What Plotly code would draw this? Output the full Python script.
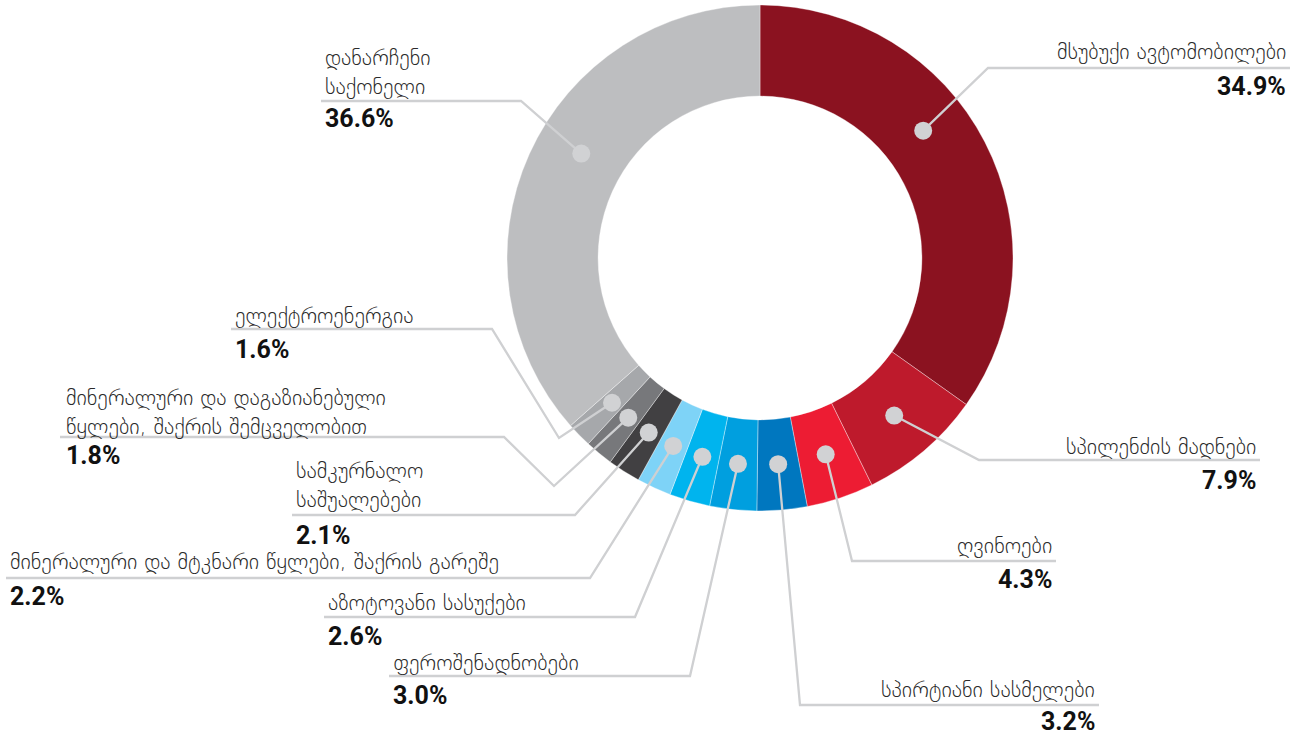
import math
import plotly.graph_objects as go

# ---------------- data ----------------
labels = [
    "მსუბუქი ავტომობილები",
    "სპილენძის მადნები",
    "ღვინოები",
    "სპირტიანი სასმელები",
    "ფეროშენადნობები",
    "აზოტოვანი სასუქები",
    "მინერალური და მტკნარი წყლები, შაქრის გარეშე",
    "სამკურნალო საშუალებები",
    "მინერალური და დაგაზიანებული წყლები, შაქრის შემცველობით",
    "ელექტროენერგია",
    "დანარჩენი საქონელი",
]
values = [34.9, 7.9, 4.3, 3.2, 3.0, 2.6, 2.2, 2.1, 1.8, 1.6, 36.6]
colors = ["#8B1220", "#BE1A2C", "#ED1C33", "#0077BF", "#009FDF", "#00B4EE",
          "#7ED3F7", "#414042", "#77787B", "#A6A8AB", "#BDBEC0"]

# label text as shown on the chart (with line breaks)
label_text = [
    "მსუბუქი ავტომობილები",
    "სპილენძის მადნები",
    "ღვინოები",
    "სპირტიანი სასმელები",
    "ფეროშენადნობები",
    "აზოტოვანი სასუქები",
    "მინერალური და მტკნარი წყლები, შაქრის გარეშე",
    "სამკურნალო<br>საშუალებები",
    "მინერალური და დაგაზიანებული<br>წყლები, შაქრის შემცველობით",
    "ელექტროენერგია",
    "დანარჩენი<br>საქონელი",
]

# ---------------- layout constants (page pixels) ----------------
W, H = 1299, 736
CX, CY, R_OUT = 760, 258, 253
HOLE = 0.64
R_DOT = 207
DOT_R = 9
LINE_COLOR = "#CFD0D2"
DOT_COLOR = "#D1D2D4"
NAME_SIZE = 22
PCT_SIZE = 25

# where along each slice the dot sits (0.5 = middle)
dot_frac = [0.415, 0.5, 0.5, 0.5, 0.5, 0.5, 0.5, 0.5, 0.5, 0.5, 0.546]

# label layout: side, text x, name-block center y, underline y, pct y, underline outer end x, bend points
label_layout = [
    dict(side="right", x=1288, ny=52, uy=68, py=86, ux=1290, path=[(988, 68)]),
    dict(side="right", x=1258, ny=446, uy=460, py=480, ux=1260, path=[(979, 460)]),
    dict(side="right", x=1054, ny=545, uy=561, py=579, ux=1056, path=[(852, 561)]),
    dict(side="right", x=1097, ny=689, uy=705, py=721, ux=1099, path=[(800, 705)]),
    dict(side="left", x=391, ny=662, uy=676, py=695, ux=389, path=[(690, 676)]),
    dict(side="left", x=326, ny=602, uy=617, py=636, ux=324, path=[(635, 617)]),
    dict(side="left", x=8, ny=561, uy=578, py=596, ux=6, path=[(590, 578)]),
    dict(side="left", x=294, ny=485, uy=515, py=535, ux=292, path=[(575, 515)]),
    dict(side="left", x=64, ny=412, uy=437, py=455, ux=60, path=[(504, 437), (554, 486)]),
    dict(side="left", x=233, ny=315, uy=329, py=349, ux=231, path=[(492, 329), (559, 438)]),
    dict(side="left", x=323, ny=72, uy=101, py=118, ux=321, path=[(521, 101)]),
]


def px(x):
    return x / W


def py(y):
    return 1 - y / H


fig = go.Figure()
fig.add_trace(go.Pie(
    labels=labels,
    values=values,
    marker=dict(colors=colors, line=dict(color="rgba(255,255,255,0.6)", width=0.6)),
    sort=False,
    direction="clockwise",
    rotation=0,
    hole=HOLE,
    textinfo="none",
    hoverinfo="label+percent",
    showlegend=False,
    domain=dict(x=[px(CX - R_OUT), px(CX + R_OUT)], y=[py(CY + R_OUT), py(CY - R_OUT)]),
))

total = sum(values)
shapes = []
annotations = []
cum = 0.0
for i, v in enumerate(values):
    ang = (cum + v * dot_frac[i]) / total * 2 * math.pi
    cum += v
    dx = CX + R_DOT * math.sin(ang)
    dy = CY - R_DOT * math.cos(ang)
    L = label_layout[i]
    pts = [(L["ux"], L["uy"])] + L["path"] + [(dx, dy)]
    d = "M " + " L ".join(f"{px(a):.5f},{py(b):.5f}" for a, b in pts)
    shapes.append(dict(type="path", path=d, xref="paper", yref="paper",
                       line=dict(color=LINE_COLOR, width=2.3), layer="above"))
    shapes.append(dict(type="circle", xref="paper", yref="paper",
                       xsizemode="pixel", ysizemode="pixel",
                       xanchor=px(dx), yanchor=py(dy),
                       x0=-DOT_R, x1=DOT_R, y0=-DOT_R, y1=DOT_R,
                       fillcolor=DOT_COLOR, line=dict(width=0), layer="above"))
    anchor = L["side"]
    annotations.append(dict(
        x=px(L["x"]), y=py(L["ny"]), xref="paper", yref="paper",
        text=label_text[i], showarrow=False, xanchor=anchor, yanchor="middle",
        align=anchor,
        font=dict(family="DejaVu Sans", size=NAME_SIZE, color="#2A2A2A", weight=300),
    ))
    annotations.append(dict(
        x=px(L["x"]), y=py(L["py"]), xref="paper", yref="paper",
        text=f"<b>{v:.1f}%</b>", showarrow=False, xanchor=anchor, yanchor="middle",
        align=anchor,
        font=dict(family="Roboto", size=PCT_SIZE, color="#111111"),
    ))

fig.update_layout(
    width=W, height=H,
    margin=dict(l=0, r=0, t=0, b=0),
    paper_bgcolor="white",
    plot_bgcolor="white",
    shapes=shapes,
    annotations=annotations,
    showlegend=False,
)

fig.write_html(
    "out.html",
    config={"displayModeBar": False},
    post_script="document.body.style.margin='0';document.body.style.overflow='hidden';",
)
